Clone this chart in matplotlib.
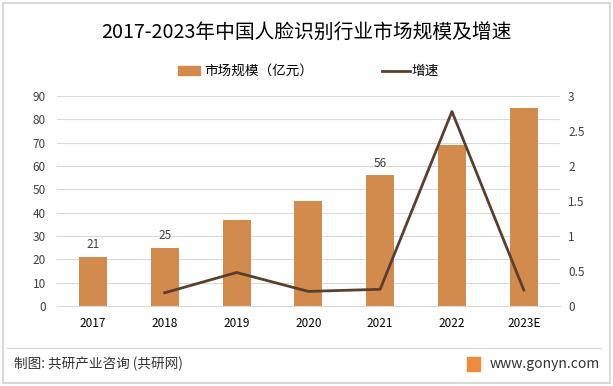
import matplotlib.pyplot as plt
from matplotlib.patches import Rectangle
from matplotlib.lines import Line2D

plt.rcParams['font.family'] = ['Noto Sans CJK SC', 'DejaVu Sans']

years = ['2017', '2018', '2019', '2020', '2021', '2022', '2023E']
market_size = [21, 25, 37, 45, 56, 69, 85]
growth_years = ['2018', '2019', '2020', '2021', '2022', '2023E']
growth = [0.19, 0.48, 0.21, 0.24, 2.78, 0.23]
labelled = {'2017': 21, '2018': 25, '2021': 56}

bar_color = '#D38B4D'
line_color = '#5B3F2E'

fig = plt.figure(figsize=(6.13, 3.86), dpi=100)
fig.patch.set_facecolor('white')

ax = fig.add_axes([0.093, 0.207, 0.82, 0.544])
x = list(range(len(years)))
ax.bar(x, market_size, width=0.39, color=bar_color, zorder=2)
ax.set_ylim(0, 90)
ax.set_yticks(range(0, 91, 10))
ax.set_xlim(-0.5, len(years) - 0.5)
ax.set_xticks(x)
ax.set_xticklabels(years)
ax.grid(axis='y', color='#D9D9D9', linewidth=0.8, zorder=0)
for s in ax.spines.values():
    s.set_visible(False)
ax.spines['bottom'].set_visible(True)
ax.spines['bottom'].set_color('#D9D9D9')
ax.tick_params(axis='both', length=0, labelsize=8.5, colors='#404040')
ax.tick_params(axis='y', pad=8)
ax.tick_params(axis='x', pad=8, colors='black')
for i, y in enumerate(years):
    if y in labelled:
        ax.text(i, labelled[y] + 2.5, str(labelled[y]), ha='center', va='bottom',
                fontsize=8.5, color='#404040')

ax2 = ax.twinx()
gx = [years.index(y) for y in growth_years]
ax2.plot(gx, growth, color=line_color, linewidth=2, zorder=3)
ax2.set_ylim(0, 3)
ax2.set_yticks([0, 0.5, 1, 1.5, 2, 2.5, 3])
ax2.set_yticklabels(['0', '0.5', '1', '1.5', '2', '2.5', '3'])
for s in ax2.spines.values():
    s.set_visible(False)
ax2.tick_params(axis='y', length=0, labelsize=8.5, colors='#404040', pad=6)

fig.text(0.5, 0.915, '2017-2023年中国人脸识别行业市场规模及增速', ha='center', va='center',
         fontsize=14.2, color='black')

# legend
fig.patches.append(Rectangle((0.290, 0.805), 0.036, 0.024, transform=fig.transFigure,
                             color=bar_color))
fig.text(0.333, 0.816, '市场规模（亿元）', ha='left', va='center', fontsize=9.8)
fig.lines.append(Line2D([0.623, 0.669], [0.816, 0.816], transform=fig.transFigure,
                        color=line_color, linewidth=2))
fig.text(0.672, 0.816, '增速', ha='left', va='center', fontsize=9.8)

# footer
fig.lines.append(Line2D([0.012, 0.98], [0.098, 0.098], transform=fig.transFigure,
                        color='#D9D9D9', linewidth=0.8))
fig.text(0.023, 0.058, '制图: 共研产业咨询 (共研网)', ha='left', va='center', fontsize=9.8,
         color='#333333')
fig.patches.append(Rectangle((0.762, 0.040), 0.021, 0.036, transform=fig.transFigure,
                             color='#F08A3C'))
fig.text(0.978, 0.058, 'www.gonyn.com', ha='right', va='center', fontsize=10,
         color='#333333')

# outer frame
fig.patches.append(Rectangle((0.005, 0.008), 0.99, 0.985, transform=fig.transFigure,
                             fill=False, edgecolor='#D9D9D9', linewidth=1.5))

fig.savefig('out.png', dpi=100)
